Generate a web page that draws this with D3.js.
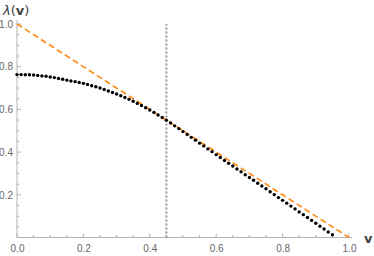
<!DOCTYPE html>
<html>
<head>
<meta charset="utf-8">
<script src="https://cdn.jsdelivr.net/npm/d3@7"></script>
<style>
	body {margin: 0; background: #fff;}
	svg {display: block; font-family: 'DejaVu Sans', sans-serif;}
</style>
</head>
<body>
<svg id="chart" width="374" height="256"></svg>
<script>
var vValues = [
	0.0000, 0.0125, 0.0250, 0.0375, 0.0500, 0.0625, 0.0750, 0.0875, 0.1000, 0.1125,
	0.1250, 0.1375, 0.1500, 0.1625, 0.1750, 0.1875, 0.2000, 0.2125, 0.2250, 0.2375,
	0.2500, 0.2625, 0.2750, 0.2875, 0.3000, 0.3125, 0.3250, 0.3375, 0.3500, 0.3625,
	0.3750, 0.3875, 0.4000, 0.4125, 0.4250, 0.4375, 0.4500, 0.4625, 0.4750, 0.4875,
	0.5000, 0.5125, 0.5250, 0.5375, 0.5500, 0.5625, 0.5750, 0.5875, 0.6000, 0.6125,
	0.6250, 0.6375, 0.6500, 0.6625, 0.6750, 0.6875, 0.7000, 0.7125, 0.7250, 0.7375,
	0.7500, 0.7625, 0.7750, 0.7875, 0.8000, 0.8125, 0.8250, 0.8375, 0.8500, 0.8625,
	0.8750, 0.8875, 0.9000, 0.9125, 0.9250, 0.9375, 0.9500];
var lambdaValues = [
	0.763, 0.763, 0.762, 0.762, 0.761, 0.759, 0.757, 0.755, 0.752, 0.749,
	0.745, 0.741, 0.737, 0.733, 0.730, 0.726, 0.722, 0.717, 0.711, 0.706,
	0.700, 0.693, 0.686, 0.679, 0.672, 0.664, 0.656, 0.647, 0.638, 0.628,
	0.618, 0.608, 0.597, 0.586, 0.574, 0.562, 0.549, 0.536, 0.523, 0.510,
	0.496, 0.483, 0.469, 0.456, 0.442, 0.429, 0.415, 0.402, 0.388, 0.375,
	0.361, 0.348, 0.335, 0.321, 0.308, 0.294, 0.281, 0.268, 0.254, 0.241,
	0.228, 0.214, 0.201, 0.187, 0.174, 0.161, 0.147, 0.134, 0.120, 0.107,
	0.094, 0.080, 0.067, 0.053, 0.040, 0.026, 0.013];
// dashed reference line endpoints
var refLineV = [0, 1];
var refLineLambda = [1, 0];
// vertical marker
var markerV = 0.45;
var xTicks = [0, 0.2, 0.4, 0.6, 0.8, 1.0];
var yTicks = [0.2, 0.4, 0.6, 0.8, 1.0];
var minorStep = 0.05;

(function() {
	'use strict';
	var svg = d3.select('#chart'),
			x = d3.scaleLinear().domain([0, 1]).range([17, 349]),
			y = d3.scaleLinear().domain([0, 1]).range([237.5, 24]),
			axisColor = '#b3b3b3',
			labelColor = '#666',
			minorX = d3.range(0, 1.0101, minorStep),
			minorY = d3.range(minorStep, 1.0101, minorStep);

	// axes
	var xAxis = d3.axisBottom(x).tickValues(xTicks).tickSize(0).tickPadding(7)
		.tickFormat(d3.format('.1f'));
	var gx = svg.append('g').attr('transform', 'translate(0,' + y(0) + ')').call(xAxis);
	gx.select('.domain').attr('d', 'M' + x(0) + ',0H' + 352).attr('stroke', axisColor);
	gx.selectAll('text').attr('fill', labelColor).style('font-size', '10px');

	var yAxis = d3.axisLeft(y).tickValues(yTicks).tickSize(0).tickPadding(4)
		.tickFormat(d3.format('.1f'));
	var gy = svg.append('g').attr('transform', 'translate(' + x(0) + ',0)').call(yAxis);
	gy.select('.domain').attr('d', 'M0,' + y(0) + 'V' + 20).attr('stroke', axisColor);
	gy.selectAll('text').attr('fill', labelColor).style('font-size', '10px');

	// tick marks, major longer than minor, pointing inward
	function isMajor(d) {return Math.abs(d * 5 - Math.round(d * 5)) < 1e-6;}
	svg.append('g').selectAll('line').data(minorX).enter().append('line')
		.attr('x1', x).attr('x2', x)
		.attr('y1', y(0))
		.attr('y2', function(d) {return y(0) - (isMajor(d) ? 4 : 2.5);})
		.attr('stroke', axisColor).attr('stroke-width', 1);
	svg.append('g').selectAll('line').data(minorY).enter().append('line')
		.attr('y1', y).attr('y2', y)
		.attr('x1', x(0))
		.attr('x2', function(d) {return x(0) + (isMajor(d) ? 4 : 2.5);})
		.attr('stroke', axisColor).attr('stroke-width', 1);

	// dotted vertical marker
	svg.append('line')
		.attr('x1', x(markerV)).attr('x2', x(markerV))
		.attr('y1', y(0)).attr('y2', y(1))
		.attr('stroke', '#888')
		.attr('stroke-width', 1.8)
		.attr('stroke-dasharray', '2,2');

	// dashed orange line
	var line = d3.line()
		.x(function(d) {return x(d[0]);})
		.y(function(d) {return y(d[1]);});
	svg.append('path')
		.datum(d3.zip(refLineV, refLineLambda))
		.attr('d', line)
		.attr('fill', 'none')
		.attr('stroke', '#ff8c1a')
		.attr('stroke-width', 1.7)
		.attr('stroke-dasharray', '6,3.5');

	// black dots
	svg.append('g').selectAll('circle')
		.data(d3.zip(vValues, lambdaValues)).enter()
		.append('circle')
		.attr('cx', function(d) {return x(d[0]);})
		.attr('cy', function(d) {return y(d[1]);})
		.attr('r', 1.7)
		.attr('fill', '#000');

	// axis labels
	var lab = svg.append('text')
		.attr('x', 3).attr('y', 15)
		.attr('fill', '#444')
		.style('font-size', '13px');
	lab.append('tspan').style('font-style', 'italic').text('λ');
	lab.append('tspan').text('(');
	lab.append('tspan').style('font-weight', 'bold').text('v');
	lab.append('tspan').text(')');

	svg.append('text')
		.attr('x', 364).attr('y', 243)
		.attr('fill', '#444')
		.style('font-size', '13px')
		.style('font-weight', 'bold')
		.text('v');
})();
</script>
</body>
</html>
